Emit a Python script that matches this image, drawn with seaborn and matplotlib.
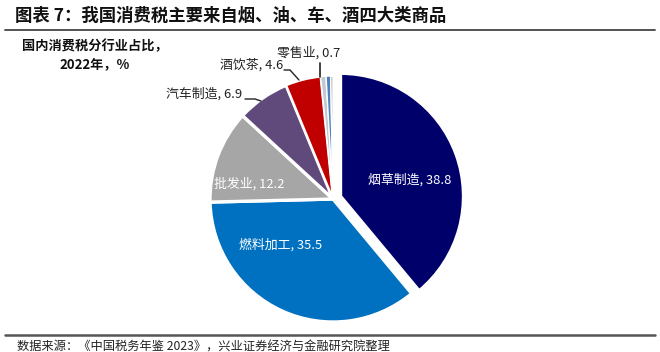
import matplotlib
matplotlib.use("Agg")
import matplotlib.pyplot as plt
import seaborn as sns

# dati: quota del consumo per settore, 2022 (%)
categories = ["烟草制造", "燃料加工", "批发业", "汽车制造", "酒饮茶", "零售业", "其他1", "其他2"]
values     = [38.8, 35.5, 12.2, 6.9, 4.6, 0.7, 0.6, 0.3]
colors     = ["#00006B", "#0070C0", "#A6A6A6", "#604A7B", "#C00000", "#C3C9D0", "#4F81BD", "#A8ABA0"]

TITLE    = "图表 7：我国消费税主要来自烟、油、车、酒四大类商品"
SUBTITLE = "国内消费税分行业占比，\n2022年，%"
SOURCE   = "数据来源：《中国税务年鉴 2023》，兴业证券经济与金融研究院整理"

sns.set_theme(style="white")
plt.rcParams["font.family"] = ["Noto Sans CJK SC", "DejaVu Sans"]

W, H = 660, 352
fig = plt.figure(figsize=(W / 100, H / 100), dpi=100)

# pie axes: centro (333,199) px, raggio 123 px
cx, cy, r = 333, 199, 123
ax = fig.add_axes([(cx - r) / W, (H - cy - r) / H, 2 * r / W, 2 * r / H])

explode = [0.065] + [0] * (len(values) - 1)
wedges, _ = ax.pie(values, colors=colors, startangle=90, counterclock=False,
                   explode=explode, radius=1,
                   wedgeprops=dict(edgecolor="white", linewidth=1.0))
for w in wedges:
    w.set_clip_on(False)
# bordi piu' spessi per le fette grandi
for w in wedges[:4]:
    w.set_linewidth(2.4)
wedges[4].set_linewidth(1.6)
ax.set_xlim(-1, 1)
ax.set_ylim(-1, 1)
ax.set_aspect("equal")
ax.axis("off")

def px(x, y):
    # pixel -> coordinate dati del pie
    return (x - cx) / r, (cy - y) / r

# etichette interne
inner = {0: (410, 180), 1: (281, 245), 2: (249, 184)}
for i, (x, y) in inner.items():
    ax.text(*px(x, y), f"{categories[i]}, {values[i]}", color="white",
            fontsize=9.3, ha="center", va="center")

# etichette esterne con linee guida
ax.text(*px(242, 94), f"{categories[3]}, {values[3]}", fontsize=9.3,
        ha="right", va="center", color="#222222")
ax.plot(*zip(px(245, 99), px(255, 99), px(261, 101)), color="#222222", lw=1)

ax.text(*px(283, 65), f"{categories[4]}, {values[4]}", fontsize=9.3,
        ha="right", va="center", color="#222222")
ax.plot(*zip(px(284, 70), px(290, 70), px(299, 80)), color="#222222", lw=1)

ax.text(*px(309, 53), f"{categories[5]}, {values[5]}", fontsize=9.3,
        ha="center", va="center", color="#222222")
ax.plot(*zip(px(320, 63), px(320, 77)), color="#222222", lw=1.2)

for ln in ax.lines:
    ln.set_clip_on(False)

# titolo, sottotitolo, fonte
fig.text(15 / W, 1 - 16 / H, TITLE, fontsize=12.5, fontweight="bold",
         ha="left", va="center", color="#111111")
fig.add_artist(plt.Line2D([5 / W, 655 / W], [1 - 30 / H, 1 - 30 / H],
                          color="#444444", lw=1.3))
fig.text(95 / W, 1 - 55 / H, SUBTITLE, fontsize=9.5, fontweight="bold",
         ha="center", va="center", linespacing=1.35, color="#111111")
fig.add_artist(plt.Line2D([5 / W, 655 / W], [1 - 335 / H, 1 - 335 / H],
                          color="#555555", lw=1.8))
fig.text(17 / W, 1 - 347 / H, SOURCE, fontsize=8.8, ha="left", va="center",
         color="#222222")

fig.savefig("out.png", dpi=100)
